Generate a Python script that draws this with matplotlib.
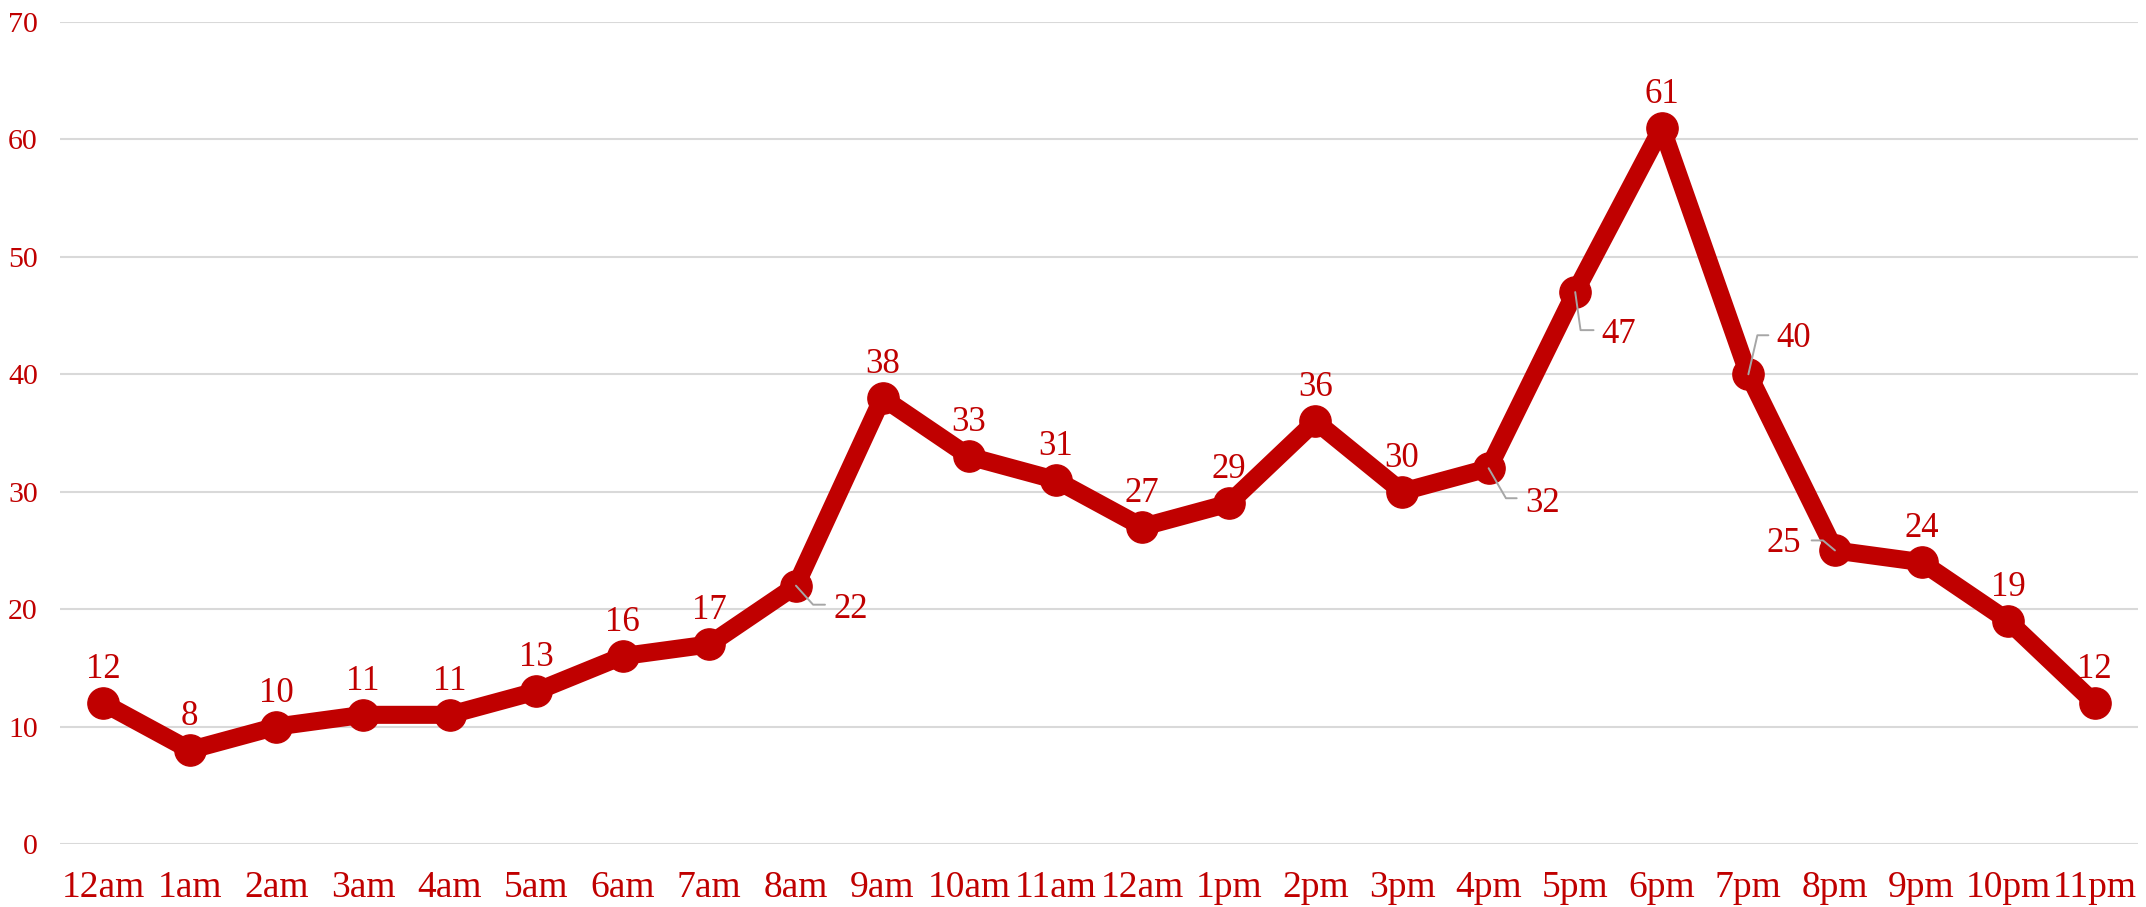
import matplotlib
matplotlib.use("Agg")
import matplotlib.pyplot as plt
import numpy as np

plt.rcParams['font.family'] = ['Liberation Serif', 'DejaVu Serif']

hours = ['12am', '1am', '2am', '3am', '4am', '5am', '6am', '7am', '8am', '9am',
         '10am', '11am', '12am', '1pm', '2pm', '3pm', '4pm', '5pm', '6pm', '7pm',
         '8pm', '9pm', '10pm', '11pm']
counts = [12, 8, 10, 11, 11, 13, 16, 17, 22, 38, 33, 31, 27, 29, 36, 30, 32, 47,
          61, 40, 25, 24, 19, 12]

RED = '#C00000'
GRID = '#D9D9D9'
LEADER = '#A6A6A6'

# labels that sit beside the point with a leader line:
# index -> (text offset pt, text ha, leader end offset pt, leader angle at point)
leader_labels = {
    8: ((26.9, -23.5), 'left', (20.9, -13.7), -48),
    16: ((26.6, -31.5), 'left', (20.2, -21.6), -60),
    17: ((18.9, -36.5), 'left', (13.2, -27.4), -82),
    19: ((20.2, 19.5), 'left', (14.4, 28.1), 77),
    20: ((-24.7, -0.8), 'right', (-16.8, 7.2), 140),
}

fig = plt.figure(figsize=(21.46, 9.07), dpi=100)
ax = fig.add_axes([60 / 2146, 63 / 907, 2078 / 2146, 822 / 907])

x = np.arange(len(hours))
ax.plot(x, counts, color=RED, linewidth=13, marker='o', markersize=22.5,
        solid_joinstyle='round', solid_capstyle='round', zorder=3, clip_on=False)

for i, v in enumerate(counts):
    if i in leader_labels:
        txt_off, ha, lead_off, ang = leader_labels[i]
        ax.annotate('', xy=(i, v), xytext=lead_off, textcoords='offset points',
                    arrowprops=dict(arrowstyle='-', color=LEADER, lw=1.4,
                                    shrinkA=0, shrinkB=0,
                                    connectionstyle='angle,angleA=0,angleB=%d,rad=0' % ang),
                    zorder=4)
        ax.annotate(str(v), xy=(i, v), xytext=txt_off, textcoords='offset points',
                    ha=ha, va='baseline', fontsize=25, color=RED, zorder=5)
    else:
        ax.annotate(str(v), xy=(i, v), xytext=(0, 18), textcoords='offset points',
                    ha='center', va='baseline', fontsize=25, color=RED, zorder=5)

ax.set_xlim(-0.5, len(hours) - 0.5)
ax.set_ylim(0, 70)
ax.set_yticks(range(0, 71, 10))
ax.set_xticks(x)
ax.set_xticklabels(hours)
ax.tick_params(axis='x', length=0, pad=19, labelsize=27, labelcolor=RED)
ax.tick_params(axis='y', length=0, pad=16, labelsize=21.5, labelcolor=RED)

ax.grid(axis='y', color=GRID, linewidth=1.5, zorder=0)
ax.set_axisbelow(True)
for s in ax.spines.values():
    s.set_visible(False)

fig.savefig('out.png', dpi=100)
